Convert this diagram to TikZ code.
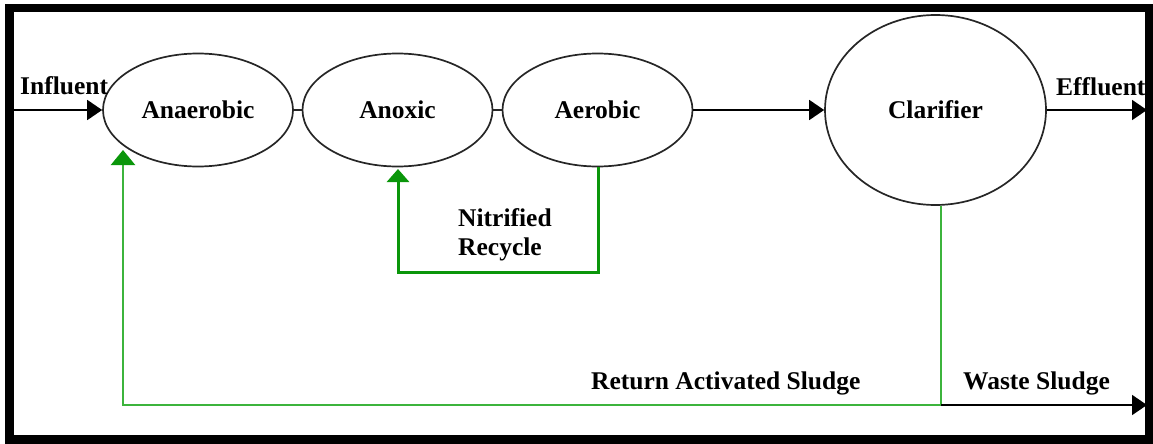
\documentclass[tikz,border=0pt]{standalone}
\usepackage{fontspec}
\setmainfont{Liberation Serif}
\usetikzlibrary{shapes.geometric,arrows.meta,calc}
\definecolor{retgreen}{RGB}{60,180,60}
\definecolor{nitgreen}{RGB}{10,150,10}
\tikzset{
  tank/.style={ellipse,draw=black!85,line width=1.7pt,inner sep=0pt,
    minimum width=190pt,minimum height=113pt,
    font=\fontsize{25.5}{30}\selectfont\bfseries},
  lbl/.style={inner sep=0pt,anchor=base west,
    font=\fontsize{25.5}{30}\selectfont\bfseries},
  flow/.style={line width=1.8pt,black,-{Triangle[length=15pt,width=20pt]}},
  plain/.style={line width=1.6pt,black!85},
  ret/.style={line width=2.2pt,retgreen,-{Triangle[length=15pt,width=24pt,color=nitgreen]}},
  nit/.style={line width=3pt,nitgreen,-{Triangle[length=13pt,width=22pt]}},
}
\begin{document}
\begin{tikzpicture}[x=1pt,y=-1pt]
\useasboundingbox (0,0) rectangle (1153,444);
% nodes
\node[tank] (ana)  at (198,110) {Anaerobic};
\node[tank] (anox) at (397.5,110) {Anoxic};
\node[tank] (aer)  at (597.5,110) {Aerobic};
\node[tank,minimum width=221pt,minimum height=190pt] (clar) at (935.5,110) {Clarifier};
% labels
\node[lbl] (linf) at (20,94) {Influent};
\node[lbl] (leff) at (1056,95) {Effluent};
\node[lbl] (lnit1) at (458,226) {Nitrified};
\node[lbl] (lnit2) at (458,255) {Recycle};
\node[lbl] (lret) at (591,389) {Return Activated Sludge};
\node[lbl] (lwas) at (963,389) {Waste Sludge};
% coordinates
\coordinate (inf) at (12,110);
\coordinate (effend) at (1147,110);
\coordinate (r1) at (941,405);
\coordinate (r2) at (123,405);
\coordinate (rtip) at (123,150);
\coordinate (wend) at (1147,405);
\coordinate (n1) at (598,272);
\coordinate (ntip) at (398,169);
% connectors
\draw[flow] (inf) -- (ana.west);
\draw[plain] (ana.east) -- (anox.west);
\draw[plain] (anox.east) -- (aer.west);
\draw[flow] (aer.east) -- (clar.west);
\draw[flow] (clar.east) -- (effend);
\draw[ret] (r1 |- clar.south) -- (r1) -- (r2) -- (rtip);
\draw[flow] (r1) -- (wend);
\draw[nit] (aer.south -| n1) -- (n1) -| (ntip);
% frame
\draw[line width=8.5pt,black] (9.5,8) rectangle (1149,439.5);
\end{tikzpicture}
\end{document}
